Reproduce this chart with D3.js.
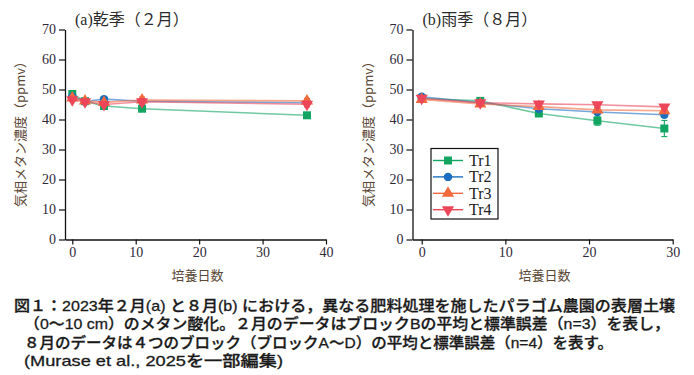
<!DOCTYPE html>
<html>
<head>
<meta charset="utf-8">
<script src="https://cdn.jsdelivr.net/npm/d3@7"></script>
<style>
  html, body { margin: 0; padding: 0; background: #fff; }
  svg { display: block; }
</style>
</head>
<body>
<div id="chart"></div>
<script>
// ━━━━━━━━━━━━━━━━━━━━━━━━━━━━━━━━━━━━━━━━━━━━━━━━━━━━━━━━━━━━━━━━━━━━━
// Datos //////////////////////////////////////////////////////////////////
// ━━━━━━━━━━━━━━━━━━━━━━━━━━━━━━━━━━━━━━━━━━━━━━━━━━━━━━━━━━━━━━━━━━━━━

const seriesNames = ['Tr1', 'Tr2', 'Tr3', 'Tr4'];

// (a) 乾季（２月）
const daysA = [0, 2, 5, 11, 37];
const tr1A = [48.5, 46.1, 44.5, 43.6, 41.4];
const tr2A = [47.6, 46.0, 46.8, 46.1, 45.6];
const tr3A = [47.2, 46.2, 45.7, 46.5, 46.2];
const tr4A = [46.6, 45.9, 45.0, 45.9, 45.1];
const errA = [
  [0.4, 0.4, 0.4, 0.5, 0.4],
  [0.5, 0.4, 0.5, 0.5, 0.5],
  [0.5, 0.4, 0.6, 1.0, 0.8],
  [0.6, 0.5, 0.6, 1.0, 0.9]
];

// (b) 雨季（８月）
const daysB = [0, 7, 14, 21, 29];
const tr1B = [47.0, 46.2, 42.0, 39.6, 37.0];
const tr2B = [47.6, 45.6, 43.6, 42.5, 41.6];
const tr3B = [46.7, 45.2, 44.3, 43.2, 42.9];
const tr4B = [47.1, 45.6, 45.2, 44.9, 44.2];
const errB = [
  [0.4, 0.5, 0.6, 1.5, 2.7],
  [0.4, 0.5, 0.6, 0.8, 0.9],
  [0.4, 0.8, 0.8, 0.8, 0.9],
  [0.4, 0.8, 0.8, 0.8, 0.8]
];

const yTicks = [0, 10, 20, 30, 40, 50, 60, 70];

const captionLines = [
  '図１：2023年２月(a) と８月(b) における，異なる肥料処理を施したパラゴム農園の表層土壌',
  '（0～10 cm）のメタン酸化。２月のデータはブロックBの平均と標準誤差（n=3）を表し，',
  '８月のデータは４つのブロック（ブロックA～D）の平均と標準誤差（n=4）を表す。',
  '(Murase et al., 2025を一部編集)'
];

// ━━━━━━━━━━━━━━━━━━━━━━━━━━━━━━━━━━━━━━━━━━━━━━━━━━━━━━━━━━━━━━━━━━━━━
// SVG setup //////////////////////////////////////////////////////////////
// ━━━━━━━━━━━━━━━━━━━━━━━━━━━━━━━━━━━━━━━━━━━━━━━━━━━━━━━━━━━━━━━━━━━━━

const width = 694;
const height = 375;

const colors = ['#12a562', '#1a6ec0', '#f2693d', '#ec4658'];
const symbols = [d3.symbolSquare, d3.symbolCircle, d3.symbolTriangle, d3.symbolTriangle];
const symSizes = [64, 56, 64, 64];
const symRotate = [0, 0, 0, 180];

const serif = '"Liberation Serif", "Noto Sans CJK JP", serif';
const jp = '"Noto Sans CJK JP", sans-serif';

const svg = d3.select('#chart').append('svg')
  .attr('width', width)
  .attr('height', height)
  .attr('viewBox', [0, 0, width, height]);

function drawPanel(o) {
  const g = svg.append('g').attr('class', 'panel');

  const x = d3.scaleLinear().domain(o.xDomain).range([o.left, o.right]);
  const y = d3.scaleLinear().domain([0, 70]).range([239.5, 29.5]);

  // ejes
  const yAxis = g.append('g')
    .attr('transform', `translate(${o.left},0)`)
    .call(d3.axisLeft(y).tickValues(yTicks).tickSize(6).tickPadding(3).tickSizeOuter(0));
  const xAxis = g.append('g')
    .attr('transform', `translate(0,${y(0)})`)
    .call(d3.axisBottom(x).tickValues(o.xTicks).tickSize(5).tickPadding(3).tickSizeOuter(0));

  [xAxis, yAxis].forEach(a => {
    a.select('.domain').attr('stroke', '#111').attr('stroke-width', 1.3);
    a.selectAll('.tick line').attr('stroke', '#111').attr('stroke-width', 1.2);
    a.selectAll('.tick text')
      .attr('fill', '#2f2a3a')
      .style('font-family', serif)
      .style('font-size', '14px');
  });

  // título
  g.append('text')
    .attr('x', o.left + 10)
    .attr('y', 25)
    .attr('fill', '#2a2a2a')
    .style('font-family', serif)
    .style('font-size', '16px')
    .text(o.title);

  // etiquetas de ejes
  g.append('text')
    .attr('x', (o.left + o.right) / 2 + 2)
    .attr('y', 280)
    .attr('text-anchor', 'middle')
    .attr('fill', '#5b4836')
    .style('font-family', jp)
    .style('font-size', '13px')
    .text('培養日数');

  g.append('text')
    .attr('transform', `translate(${o.left - 40},${131}) rotate(-90)`)
    .attr('text-anchor', 'middle')
    .attr('fill', '#5b4836')
    .style('font-family', jp)
    .style('font-size', '13px')
    .text('気相メタン濃度（ppmv）');

  const line = d3.line().x(d => x(d.day)).y(d => y(d.v));

  o.series.forEach((vals, i) => {
    const pts = o.days.map((day, j) => ({ day: day, v: vals[j], e: o.err[i][j] }));
    const s = g.append('g').attr('data-series', seriesNames[i]);

    s.append('path')
      .datum(pts)
      .attr('d', line)
      .attr('fill', 'none')
      .attr('stroke', colors[i])
      .attr('stroke-opacity', 0.6)
      .attr('stroke-width', 1.6);

    // barras de error
    const eb = s.append('g').attr('stroke', colors[i]).attr('stroke-width', 1.1);
    eb.selectAll('line.v').data(pts).join('line')
      .attr('class', 'v')
      .attr('x1', d => x(d.day)).attr('x2', d => x(d.day))
      .attr('y1', d => y(d.v - d.e)).attr('y2', d => y(d.v + d.e));
    eb.selectAll('line.lo').data(pts).join('line')
      .attr('class', 'lo')
      .attr('x1', d => x(d.day) - 3).attr('x2', d => x(d.day) + 3)
      .attr('y1', d => y(d.v - d.e)).attr('y2', d => y(d.v - d.e));
    eb.selectAll('line.hi').data(pts).join('line')
      .attr('class', 'hi')
      .attr('x1', d => x(d.day) - 3).attr('x2', d => x(d.day) + 3)
      .attr('y1', d => y(d.v + d.e)).attr('y2', d => y(d.v + d.e));

    s.selectAll('path.mk').data(pts).join('path')
      .attr('class', 'mk')
      .attr('d', d3.symbol().type(symbols[i]).size(symSizes[i]))
      .attr('transform', d => `translate(${x(d.day)},${y(d.v)}) rotate(${symRotate[i]})`)
      .attr('fill', colors[i]);
  });

  return { x: x, y: y };
}

drawPanel({
  left: 65, right: 326, xDomain: [-1.15, 40], xTicks: [0, 10, 20, 30, 40],
  title: '(a)乾季（２月）', days: daysA, series: [tr1A, tr2A, tr3A, tr4A], err: errA
});

drawPanel({
  left: 412.5, right: 672.7, xDomain: [-1.1, 30], xTicks: [0, 10, 20, 30],
  title: '(b)雨季（８月）', days: daysB, series: [tr1B, tr2B, tr3B, tr4B], err: errB
});

// Leyenda ////////////////////////////////////////////////////////////////

const legend = svg.append('g').attr('id', 'legend');
legend.append('rect')
  .attr('x', 431).attr('y', 148.5).attr('width', 67).attr('height', 70.5)
  .attr('fill', '#fff').attr('stroke', '#111').attr('stroke-width', 1.2);

seriesNames.forEach((name, i) => {
  const ly = 160.5 + i * 16.4;
  legend.append('line')
    .attr('x1', 433).attr('x2', 463).attr('y1', ly).attr('y2', ly)
    .attr('stroke', colors[i]).attr('stroke-width', 1.4);
  legend.append('path')
    .attr('d', d3.symbol().type(symbols[i]).size(symSizes[i]))
    .attr('transform', `translate(448,${ly}) rotate(${symRotate[i]})`)
    .attr('fill', colors[i]);
  legend.append('text')
    .attr('x', 469).attr('y', ly + 5.5)
    .attr('fill', '#222')
    .style('font-family', serif)
    .style('font-size', '16px')
    .text(name);
});

// Pie de figura //////////////////////////////////////////////////////////

const capX = [14, 24, 24, 24];
const capW = [661, 646, 589, 259];
svg.append('g').attr('id', 'caption')
  .selectAll('text')
  .data(captionLines)
  .join('text')
  .attr('x', (d, i) => capX[i])
  .attr('y', (d, i) => 311 + i * 18.3)
  .attr('textLength', (d, i) => capW[i])
  .attr('lengthAdjust', 'spacingAndGlyphs')
  .attr('fill', '#1a1a1a')
  .attr('stroke', '#1a1a1a')
  .attr('stroke-width', 0.3)
  .style('font-family', '"Liberation Sans", "Noto Sans CJK JP", sans-serif')
  .style('font-weight', 500)
  .style('font-size', '15px')
  .text(d => d);
</script>
</body>
</html>
